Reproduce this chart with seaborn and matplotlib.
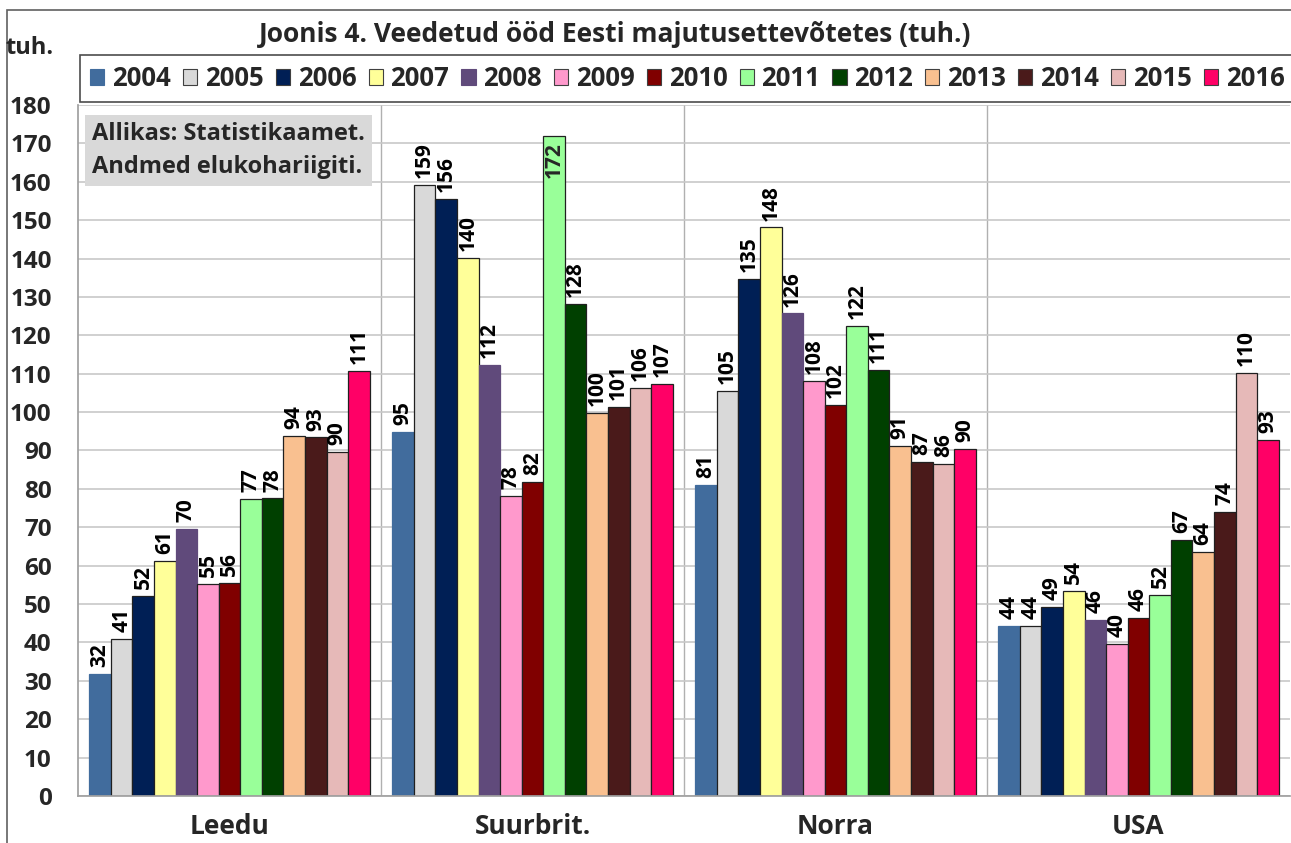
import matplotlib
matplotlib.use("Agg")
import matplotlib.pyplot as plt
import seaborn as sns
import pandas as pd
from matplotlib.patches import Rectangle, Patch

countries = ["Leedu", "Suurbrit.", "Norra", "USA"]
years = ["2004", "2005", "2006", "2007", "2008", "2009", "2010",
         "2011", "2012", "2013", "2014", "2015", "2016"]
leedu = [32, 41, 52, 61, 70, 55, 56, 77, 78, 94, 93, 90, 111]
suurbrit = [95, 159, 156, 140, 112, 78, 82, 172, 128, 100, 101, 106, 107]
norra = [81, 105, 135, 148, 126, 108, 102, 122, 111, 91, 87, 86, 90]
usa = [44, 44, 49, 54, 46, 40, 46, 52, 67, 64, 74, 110, 93]
plot_values = [31.8, 40.8, 52.0, 61.2, 69.6, 55.3, 55.5, 77.4, 77.5, 93.7, 93.4, 89.7, 110.7,
               94.8, 159.1, 155.6, 140.2, 112.3, 78.2, 81.7, 171.8, 128.1, 99.7, 101.3, 106.3, 107.4,
               81.0, 105.4, 134.7, 148.1, 125.7, 108.2, 101.9, 122.4, 110.9, 91.3, 87.0, 86.4, 90.3,
               44.4, 44.4, 49.3, 53.5, 45.8, 39.5, 46.3, 52.3, 66.6, 63.5, 74.1, 110.1, 92.8]
colors = ["#416C9D", "#D9D9D9", "#001F55", "#FFFF99", "#604A7B", "#FF99CC", "#800000",
          "#99FF99", "#004000", "#F9C090", "#4A1A1A", "#E6B9B8", "#FF0066"]

label_values = [leedu, suurbrit, norra, usa]
rows = []
for ci, c in enumerate(countries):
    for yi, y in enumerate(years):
        rows.append({"country": c, "year": y, "value": plot_values[ci * 13 + yi]})
df = pd.DataFrame(rows)

sns.set_theme(style="white")
plt.rcParams["font.family"] = ["Open Sans", "DejaVu Sans"]
plt.rcParams["font.weight"] = "bold"

fig = plt.figure(figsize=(12.91, 8.43), dpi=100)
ax = fig.add_axes([78 / 1291, (843 - 796) / 843, (1290 - 78) / 1291, (796 - 105) / 843])

sns.barplot(data=df, x="country", y="value", hue="year", order=countries,
            hue_order=years, palette=colors, width=0.925, gap=0, saturation=1,
            edgecolor="#202020", linewidth=0.9, legend=False, ax=ax, errorbar=None)

YMAX = 180
for yi, cont in enumerate(ax.containers):
    if yi in (0, 4):
        for p in cont:
            p.set_edgecolor(colors[yi])
    labs = []
    for ci, p in enumerate(cont):
        txt = str(label_values[ci][yi])
        if p.get_height() > YMAX - 12:
            # label does not fit above: place inside the bar top
            ax.annotate(txt, (p.get_x() + p.get_width() / 2, p.get_height()),
                        xytext=(0, -4), textcoords="offset points", rotation=90,
                        ha="center", va="top", fontsize=15, fontweight="bold")
            labs.append("")
        else:
            labs.append(txt)
    ax.bar_label(cont, labels=labs, rotation=90, padding=5, fontsize=15,
                 fontweight="bold", color="black")

ax.set_ylim(0, YMAX)
ax.set_xlim(-0.5, 3.5)
ax.set_yticks(range(0, 181, 10))
ax.yaxis.grid(True, color="#C8C8C8", linewidth=1.2)
ax.set_axisbelow(True)
for xb in [0.5, 1.5, 2.5]:
    ax.axvline(xb, color="#B0B0B0", linewidth=1.0, zorder=0)
ax.set_xticks([-0.5, 0.5, 1.5, 2.5, 3.5], minor=True)
ax.tick_params(axis="x", which="minor", length=9, color="#A0A0A0", width=1)
ax.tick_params(axis="x", which="major", length=0, pad=12, labelsize=19)
ax.tick_params(axis="y", length=6, color="#A0A0A0", width=1, labelsize=17.5, pad=13)
for lab in ax.get_xticklabels() + ax.get_yticklabels():
    lab.set_fontweight("bold")
ax.set_xlabel("")
ax.set_ylabel("")
for s in ["top", "right"]:
    ax.spines[s].set_visible(False)
ax.spines["left"].set_color("#A0A0A0")
ax.spines["bottom"].set_color("#A0A0A0")

# titles
fig.text(615 / 1291, 1 - 35 / 843, "Joonis 4. Veedetud ööd Eesti majutusettevõtetes (tuh.)",
         ha="center", va="center", fontsize=19, fontweight="bold")
fig.text(6 / 1291, 1 - 48 / 843, "tuh.", ha="left", va="center", fontsize=17, fontweight="bold")

# source box
ax.text(0.0115, 0.976, "Allikas: Statistikaamet.\nAndmed elukohariigiti.",
        transform=ax.transAxes, ha="left", va="top", fontsize=17, fontweight="bold",
        linespacing=1.5,
        bbox=dict(boxstyle="square,pad=0.3", facecolor="#D9D9D9", edgecolor="none"))

# legend
handles = [Patch(facecolor=colors[i], edgecolor="#404040" if i not in (0, 4) else colors[i],
                 linewidth=0.8, label=years[i]) for i in range(len(years))]
leg = fig.legend(handles=handles, loc="center", ncol=13,
                 bbox_to_anchor=(80 / 1291, 1 - 100 / 843, 1.003 - 80 / 1291, 43 / 843),
                 mode="expand", frameon=True, fancybox=False, edgecolor="#202020",
                 fontsize=18.5, handlelength=0.55, handleheight=0.6, handletextpad=0.3,
                 columnspacing=0.3, borderaxespad=0, borderpad=0.4)
leg.get_frame().set_linewidth(1.2)
for t in leg.get_texts():
    t.set_fontweight("bold")

# outer chart border
fig.patches.append(Rectangle((7 / 1291, -0.1), 1.2, 1 - 10 / 843 + 0.1,
                             transform=fig.transFigure, fill=False,
                             edgecolor="#606060", linewidth=1.2))

fig.savefig("out.png", dpi=100)
